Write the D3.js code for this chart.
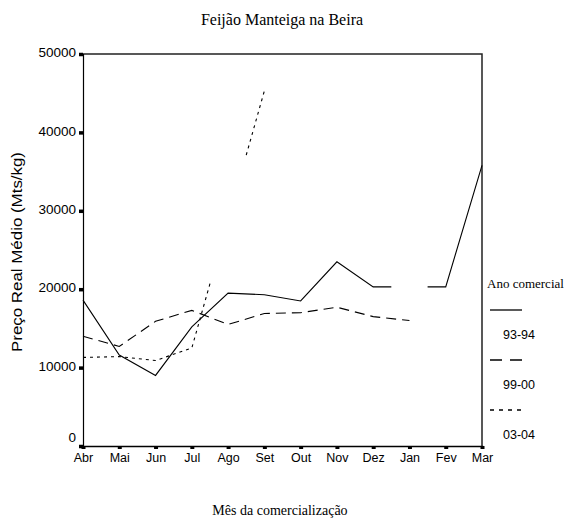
<!DOCTYPE html>
<html>
<head>
<meta charset="utf-8">
<script src="https://cdn.jsdelivr.net/npm/d3@7"></script>
<style>
  body { margin: 0; background: #fff; }
  svg { display: block; }
  .serif { font-family: "Liberation Serif", "DejaVu Serif", serif; }
  .sans { font-family: "Liberation Sans", Arial, sans-serif; }
</style>
</head>
<body>
<div id="chart"></div>
<script>
// chart values
const months = ['Abr', 'Mai', 'Jun', 'Jul', 'Ago', 'Set', 'Out', 'Nov', 'Dez', 'Jan', 'Fev', 'Mar'];
const yTicks = [0, 10000, 20000, 30000, 40000, 50000];
const seriesNames = ['93-94', '99-00', '03-04'];
const values9394 = [18600, 11600, 9000, 15200, 19500, 19300, 18500, 23500, 20300, null, 20300, 35800];
const values9900 = [14000, 12700, 15900, 17300, 15500, 16900, 17000, 17700, 16500, 16000, null, null];
const values0304 = [11300, 11400, 10900, 12500, null, 45300, null, null, null, null, null, null];

(function() {
'use strict';

const width = 572;
const height = 526;
const plotLeft = 83, plotRight = 482, plotTop = 54, plotBottom = 446;
const dashes = [null, '10,6', '3,4'];
const legendDashes = [null, '12,8', '4,5'];

const svg = d3.select('#chart')
  .append('svg')
  .attr('width', width)
  .attr('height', height);

const x = d3.scalePoint().domain(months).range([plotLeft, plotRight]).padding(0);
const y = d3.scaleLinear().domain([0, 50000]).range([plotBottom, plotTop]);
const xi = function(i) { return plotLeft + i * x.step(); };

// title
svg.append('text')
  .attr('class', 'serif')
  .attr('x', 282).attr('y', 25)
  .attr('text-anchor', 'middle')
  .style('font-size', '16px')
  .text('Feijão Manteiga na Beira');

// frame (top + right)
svg.append('path')
  .attr('d', 'M' + plotLeft + ',' + plotTop + 'H' + plotRight + 'V' + plotBottom)
  .attr('fill', 'none')
  .attr('stroke', '#222')
  .attr('stroke-width', 1.5);

// y axis
const yAxis = svg.append('g')
  .attr('class', 'sans')
  .attr('transform', 'translate(' + plotLeft + ',0)')
  .call(d3.axisLeft(y).tickValues(yTicks).tickSize(4).tickPadding(3).tickFormat(d3.format('d')));
yAxis.select('.domain').attr('stroke', '#000').attr('stroke-width', 1.2);
yAxis.selectAll('.tick line').attr('stroke', '#000').attr('stroke-width', 3.5);
yAxis.selectAll('.tick text')
  .style('font-size', '13.5px').style('font-family', '"Liberation Sans", Arial, sans-serif')
  .attr('fill', '#000')
  .attr('dy', function(d) { return d === 0 ? '-0.35em' : '0.2em'; });

// x axis
const xAxis = svg.append('g')
  .attr('class', 'sans')
  .attr('transform', 'translate(0,' + plotBottom + ')')
  .call(d3.axisBottom(x).tickSize(3).tickPadding(4));
xAxis.select('.domain').attr('stroke', '#000').attr('stroke-width', 1.5);
xAxis.selectAll('.tick line').attr('stroke', '#000').attr('stroke-width', 4);
xAxis.selectAll('.tick text')
  .style('font-size', '12.5px').style('font-family', '"Liberation Sans", Arial, sans-serif')
  .attr('fill', '#000');

// axis titles
svg.append('text')
  .attr('class', 'sans')
  .attr('transform', 'translate(22,252) rotate(-90)')
  .attr('text-anchor', 'middle')
  .attr('textLength', 200)
  .attr('lengthAdjust', 'spacingAndGlyphs')
  .style('font-size', '14px')
  .text('Preço Real Médio (Mts/kg)');

svg.append('text')
  .attr('class', 'serif')
  .attr('x', 280).attr('y', 515)
  .attr('text-anchor', 'middle')
  .style('font-size', '14px')
  .text('Mês da comercialização');

// lines: a missing month leaves a gap from half way before it to half way after it
function runs(vals) {
  const def = [];
  vals.forEach(function(v, i) { if (v !== null) def.push({i: i, v: v}); });
  const out = [];
  let cur = def.length ? [def[0]] : [];
  for (let k = 0; k < def.length - 1; k++) {
    const a = def[k], b = def[k + 1];
    const n = b.i - a.i;
    if (n === 1) {
      cur.push(b);
    } else {
      const lerp = function(t) { return {i: a.i + n * t, v: a.v + (b.v - a.v) * t}; };
      cur.push(lerp(0.5 / n));
      out.push(cur);
      cur = [lerp(1 - 0.5 / n), b];
    }
  }
  if (cur.length > 1) out.push(cur);
  return out;
}

const line = d3.line()
  .x(function(d) { return xi(d.i); })
  .y(function(d) { return y(d.v); });

[values9394, values9900, values0304].forEach(function(vals, s) {
  svg.append('g').selectAll('path')
    .data(runs(vals))
    .enter()
    .append('path')
    .attr('d', line)
    .attr('fill', 'none')
    .attr('stroke', '#000')
    .attr('stroke-width', 1.1)
    .attr('stroke-dasharray', dashes[s]);
});

// legend
svg.append('text')
  .attr('class', 'serif')
  .attr('x', 487).attr('y', 288)
  .style('font-size', '13px')
  .text('Ano comercial');

const legend = svg.selectAll('.legend')
  .data(seriesNames)
  .enter()
  .append('g')
  .attr('class', 'legend')
  .attr('transform', function(d, i) { return 'translate(490,' + (310 + i * 50) + ')'; });

legend.append('line')
  .attr('x1', 0).attr('x2', 32)
  .attr('stroke', '#000')
  .attr('stroke-width', 1.3)
  .attr('stroke-dasharray', function(d, i) { return legendDashes[i]; });

legend.append('text')
  .attr('class', 'sans')
  .attr('x', 13).attr('y', 29)
  .style('font-size', '12.5px')
  .text(function(d) { return d; });
})();
</script>
</body>
</html>
